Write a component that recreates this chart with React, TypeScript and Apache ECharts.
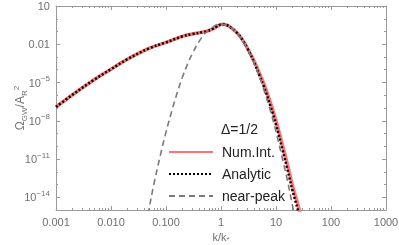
import React, { useEffect, useRef } from "react";
import * as echarts from "echarts";

// k/k* grid for the numerical and analytic curves
const numK = [0.001, 0.002, 0.005, 0.01, 0.02, 0.05, 0.1, 0.2, 0.3, 0.5, 0.6, 0.7, 0.8, 1, 1.1, 1.25, 1.5, 2, 2.5, 3, 4, 5, 6, 8, 10, 13, 16, 20, 25, 30, 35];
const numOmega = [1.2e-7, 1.1e-6, 1.7e-5, 1.1e-4, 6.8e-4, 4.9e-3, 1.4e-2, 4.2e-2, 6.3e-2, 9.5e-2, 0.12, 0.158, 0.215, 0.36, 0.375, 0.33, 0.21, 7.1e-2, 2.0e-2, 5.2e-3, 4.8e-4, 5.1e-5, 8.3e-6, 2.3e-7, 1e-8, 1.45e-10, 4.3e-12, 7.9e-14, 2.7e-15, 1.0e-16, 6.3e-18];
const anaOmega = [1.2e-7, 1.1e-6, 1.7e-5, 1.1e-4, 6.8e-4, 4.9e-3, 1.4e-2, 4.2e-2, 6.3e-2, 9.5e-2, 0.12, 0.158, 0.215, 0.36, 0.375, 0.33, 0.21, 7.0e-2, 1.95e-2, 5.0e-3, 3.8e-4, 3.5e-5, 5.0e-6, 1.26e-7, 5.0e-9, 6.3e-11, 1.8e-12, 3.2e-14, 1.0e-15, 4.0e-17, 2.5e-18];

// near-peak approximation
const peakK = [0.04, 0.05, 0.06, 0.08, 0.1, 0.13, 0.16, 0.2, 0.25, 0.3, 0.4, 0.5, 0.6, 0.8, 1, 1.25, 1.6, 2, 2.5, 3, 4, 5, 6, 8, 10, 12.5, 16, 20, 25];
const peakOmega = [1.3e-17, 1.8e-15, 1e-13, 2.5e-11, 1.26e-9, 7.9e-8, 1.6e-6, 2.8e-5, 3.2e-4, 1.8e-3, 1.66e-2, 6.3e-2, 0.12, 0.316, 0.38, 0.316, 0.17, 6.3e-2, 1.66e-2, 4.5e-3, 3.2e-4, 2.8e-5, 2.8e-6, 5e-8, 1.4e-9, 2.5e-11, 2.5e-13, 2e-15, 1.3e-17];

const seriesNames = ["Num.Int.", "Analytic", "near-peak"];
const legendTitle = "Δ=1/2";

const xTickValues = [0.001, 0.01, 0.1, 1, 10, 100, 1000];
const xTickLabels = ["0.001", "0.010", "0.100", "1", "10", "100", "1000"];
const yTickValues = [10, 0.01, 1e-5, 1e-8, 1e-11, 1e-14];
const yTickLabels = ["10", "0.01", "10{sup|−5}", "10{sup|−8}", "10{sup|−11}", "10{sup|−14}"];
const yDecades = [1e-15, 1e-14, 1e-13, 1e-12, 1e-11, 1e-10, 1e-9, 1e-8, 1e-7, 1e-6, 1e-5, 1e-4, 1e-3, 1e-2, 1e-1, 1, 10];

const xMinor: number[] = [];
for (const d of [0.001, 0.01, 0.1, 1, 10, 100]) {
  for (let m = 2; m <= 9; m++) xMinor.push(d * m);
}

const FONT = "Liberation Sans, Arial, sans-serif";
const AXIS = "#9a9a9a";
const LABEL = "#707070";

function pickLabel(values: number[], labels: string[], v: number) {
  let best = 0;
  let bd = Infinity;
  values.forEach((t, i) => {
    const d = Math.abs(Math.log10(t) - Math.log10(v));
    if (d < bd) { bd = d; best = i; }
  });
  return labels[best];
}

export default function App() {
  const ref = useRef<HTMLDivElement>(null);
  useEffect(() => {
    if (!ref.current) return;
    const chart = echarts.init(ref.current, undefined, { renderer: "svg" });
    const baseX = { type: "log", logBase: 10, min: 0.001, max: 1000, splitLine: { show: false } };
    const baseY = { type: "log", logBase: 10, min: 1e-15, max: 10, splitLine: { show: false } };
    const line = { lineStyle: { color: AXIS, width: 1 } };
    chart.setOption({
      animation: false,
      textStyle: { fontFamily: FONT },
      grid: { left: 56, right: 13, top: 6, bottom: 35, containLabel: false, outerBoundsMode: "none" },
      xAxis: [
        {
          ...baseX,
          position: "bottom",
          axisLine: { show: true, ...line },
          axisTick: { show: true, inside: true, length: 4, customValues: xTickValues, ...line },
          axisLabel: {
            customValues: xTickValues,
            formatter: (v: number) => pickLabel(xTickValues, xTickLabels, v),
            color: LABEL, fontSize: 11, margin: 6, fontFamily: FONT,
            showMinLabel: true, showMaxLabel: true,
          },
          name: "k/k{s|*}",
          nameLocation: "middle",
          nameGap: 21,
          nameMoveOverlap: false,
          nameTextStyle: {
            color: LABEL, fontSize: 11, fontFamily: FONT, lineHeight: 12,
            rich: { s: { fontSize: 8, color: LABEL, verticalAlign: "bottom", lineHeight: 12, fontFamily: FONT } },
          },
        },
        {
          ...baseX,
          position: "bottom",
          axisLine: { show: false },
          axisTick: { show: true, inside: true, length: 2, customValues: xMinor, ...line },
          axisLabel: { show: false },
        },
        {
          ...baseX,
          position: "top",
          axisLine: { show: true, ...line },
          axisTick: { show: true, inside: true, length: 4, customValues: xTickValues, ...line },
          axisLabel: { show: false },
        },
        {
          ...baseX,
          position: "top",
          axisLine: { show: false },
          axisTick: { show: true, inside: true, length: 2, customValues: xMinor, ...line },
          axisLabel: { show: false },
        },
      ],
      yAxis: [
        {
          ...baseY,
          position: "left",
          axisLine: { show: true, ...line },
          axisTick: { show: true, inside: true, length: 4, customValues: yTickValues, ...line },
          axisLabel: {
            customValues: yTickValues,
            formatter: (v: number) => pickLabel(yTickValues, yTickLabels, v),
            color: LABEL, fontSize: 11, margin: 6, fontFamily: FONT, lineHeight: 16,
            showMinLabel: true, showMaxLabel: true,
            rich: { sup: { fontSize: 8, color: LABEL, verticalAlign: "top", lineHeight: 16, fontFamily: FONT } },
          },
          name: "Ω{sub|GW}/A{sub|R}{sup|2}",
          nameLocation: "middle",
          nameGap: 28,
          nameRotate: 90,
          nameMoveOverlap: false,
          nameTextStyle: {
            color: LABEL, fontSize: 12, fontFamily: FONT, lineHeight: 16,
            rich: {
              sub: { fontSize: 8, color: LABEL, verticalAlign: "bottom", lineHeight: 16, fontFamily: FONT },
              sup: { fontSize: 8, color: LABEL, verticalAlign: "top", lineHeight: 16, fontFamily: FONT },
            },
          },
        },
        {
          ...baseY,
          position: "left",
          axisLine: { show: false },
          axisTick: { show: true, inside: true, length: 2, customValues: yDecades, ...line },
          axisLabel: { show: false },
        },
        {
          ...baseY,
          position: "right",
          axisLine: { show: true, ...line },
          axisTick: { show: true, inside: true, length: 4, customValues: yTickValues, ...line },
          axisLabel: { show: false },
        },
        {
          ...baseY,
          position: "right",
          axisLine: { show: false },
          axisTick: { show: true, inside: true, length: 2, customValues: yDecades, ...line },
          axisLabel: { show: false },
        },
      ],
      legend: {
        orient: "vertical",
        left: 168,
        top: 145,
        itemWidth: 44,
        itemHeight: 14,
        itemGap: 8,
        padding: 0,
        itemStyle: { opacity: 0 },
        textStyle: { fontSize: 14, color: "#222", fontFamily: FONT, padding: [0, 0, 0, 4] },
        data: seriesNames,
      },
      graphic: [
        {
          type: "text",
          left: 221,
          top: 122,
          style: { text: legendTitle, font: `14px ${FONT}`, fill: "#222" },
        },
      ],
      series: [
        {
          name: seriesNames[0],
          type: "line",
          symbol: "none",
          smooth: 0.4,
          clip: true,
          data: numK.map((k, i) => [k, numOmega[i]]),
          lineStyle: { color: "#ff7474", width: 3.5 },
          itemStyle: { color: "#ff7474" },
          z: 2,
        },
        {
          name: seriesNames[1],
          type: "line",
          symbol: "none",
          smooth: 0.4,
          clip: true,
          data: numK.map((k, i) => [k, anaOmega[i]]),
          lineStyle: { color: "#000", width: 2.5, type: [2, 2] },
          itemStyle: { color: "#000" },
          z: 3,
        },
        {
          name: seriesNames[2],
          type: "line",
          symbol: "none",
          smooth: 0.4,
          clip: true,
          data: peakK.map((k, i) => [k, peakOmega[i]]),
          lineStyle: { color: "#7a7a7a", width: 1.6, type: [6, 4] },
          itemStyle: { color: "#7a7a7a" },
          z: 4,
        },
      ],
    });
    return () => chart.dispose();
  }, []);
  return <div ref={ref} style={{ position: "fixed", left: 0, top: 0, width: 399, height: 245 }} />;
}
